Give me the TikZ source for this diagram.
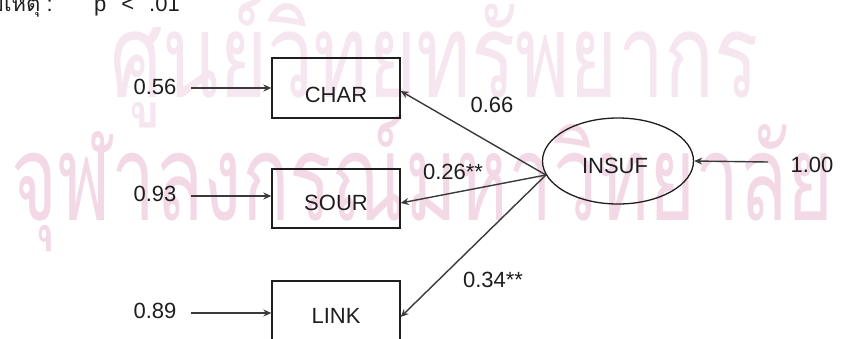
\documentclass[tikz,border=0pt]{standalone}
\usepackage{fontspec}
\setmainfont{Liberation Sans}
\newfontfamily\thai[Script=Thai]{Loma}
\usetikzlibrary{arrows.meta,shapes.geometric}
\definecolor{ink}{HTML}{1E1E1E}
\definecolor{lineg}{HTML}{3A3A3A}
\definecolor{wmA}{HTML}{F6E6EF}
\definecolor{wmB}{HTML}{F3D9E6}
\begin{document}
\begin{tikzpicture}[x=1pt,y=-1pt,
  font=\fontsize{22}{24}\selectfont,
  box/.style={draw=ink, line width=1.3pt, minimum width=128pt, minimum height=60pt, inner sep=0pt},
  latent/.style={ellipse, draw=ink, line width=1.3pt, minimum width=151pt, minimum height=86pt, inner sep=0pt},
  lbl/.style={text=ink, inner sep=0pt},
  wm/.style={inner sep=0pt, anchor=base west, font=\thai\fontsize{96}{100}\selectfont},
  arr/.style={draw=lineg, line width=1.4pt, -{Stealth[length=8pt,width=7pt]}}]
\useasboundingbox (0,0) rectangle (845,338);
% watermark
\node[wm, text=wmA] (wmone) at (110,97) {\scalebox{0.86}[1.22]{ศูนย์วิทยทรัพยากร}};
\node[wm, text=wmB] (wmtwo) at (11,220) {\scalebox{0.82}[1.25]{จุฬาลงกรณ์มหาวิทยาลัย}};
% note at top (cut off)
\node[lbl, anchor=base east] (note) at (180,11) {{\thai หมายเหตุ} :\hspace{26pt}\textsuperscript{**}\hspace{3pt}p\hspace{15pt}<\hspace{15pt}.01};
% boxes
\node[box, label={[lbl,yshift=-7pt]center:CHAR}] (char) at (336,88) {};
\node[box, minimum height=59pt, label={[lbl,yshift=-4pt]center:SOUR}] (sour) at (336,198.5) {};
\node[box, label={[lbl,yshift=-5pt]center:LINK}] (link) at (336,311) {};
\node[latent, label={[lbl,xshift=-3pt,yshift=-5pt]center:INSUF}] (insuf) at (618,161) {};
% error terms
\node[lbl] (e56) at (155,87) {0.56};
\node[lbl] (e93) at (155,194) {0.93};
\node[lbl] (e89) at (155,311) {0.89};
\node[lbl] (e100) at (812,165) {1.00};
\coordinate (s56) at (191,88);
\coordinate (s93) at (191,196);
\coordinate (s89) at (191,313);
\coordinate (s100) at (768,162);
\draw[arr] (s56) -- (s56 -| char.west);
\draw[arr] (s93) -- (s93 -| sour.west);
\draw[arr] (s89) -- (s89 -| link.west);
\draw[arr] (s100) -- (insuf.east);
% loadings
\draw[arr] (insuf.191) -- ([yshift=-3pt]char.east);
\draw[arr] (insuf.191) -- ([yshift=-4.5pt]sour.east);
\draw[arr] (insuf.191) -- ([yshift=-6pt]link.east);
\node[lbl] (l66) at (492,105) {0.66};
\node[lbl] (l26) at (453,172) {0.26**};
\node[lbl] (l34) at (493,280) {0.34**};
\end{tikzpicture}
\end{document}
